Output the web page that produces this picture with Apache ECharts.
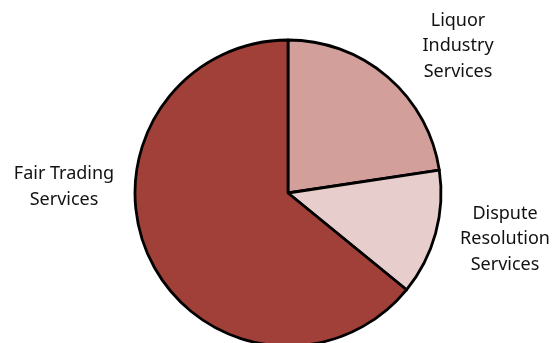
<!DOCTYPE html>
<html>
<head>
<meta charset="utf-8">
<script src="https://cdn.jsdelivr.net/npm/echarts@6/dist/echarts.min.js"></script>
<style>
  html, body { margin: 0; padding: 0; background: #fff; }
  #chart { width: 559px; height: 343px; }
</style>
</head>
<body>
<div id="chart"></div>
<script>
// slice data, clockwise from 12 o'clock
const categories = ['Liquor\nIndustry\nServices', 'Dispute\nResolution\nServices', 'Fair Trading\nServices'];
const shares = [22.6, 13.3, 64.1];
const colors = ['#D29F9B', '#E8CDCD', '#A04038'];

// where each label block sits (centre point)
const labelSpots = [[458, 46], [505, 239], [64, 187]];

const chart = echarts.init(document.getElementById('chart'));

chart.setOption({
  animation: false,
  series: [
    {
      type: 'pie',
      center: [288, 193],
      radius: 153,
      startAngle: 90,
      clockwise: true,
      silent: true,
      data: categories.map((name, i) => ({
        name: name,
        value: shares[i],
        itemStyle: { color: colors[i] }
      })),
      itemStyle: { borderColor: '#000', borderWidth: 2.8 },
      label: {
        show: true,
        position: 'inside',
        overflow: 'none',
        formatter: '{b}',
        fontFamily: 'Noto Sans',
        fontSize: 18,
        lineHeight: 25.5,
        color: '#111',
        align: 'center'
      },
      labelLine: { show: false },
      labelLayout: (p) => ({
        x: labelSpots[p.dataIndex][0],
        y: labelSpots[p.dataIndex][1],
        align: 'center',
        verticalAlign: 'middle'
      })
    }
  ]
});
</script>
</body>
</html>
